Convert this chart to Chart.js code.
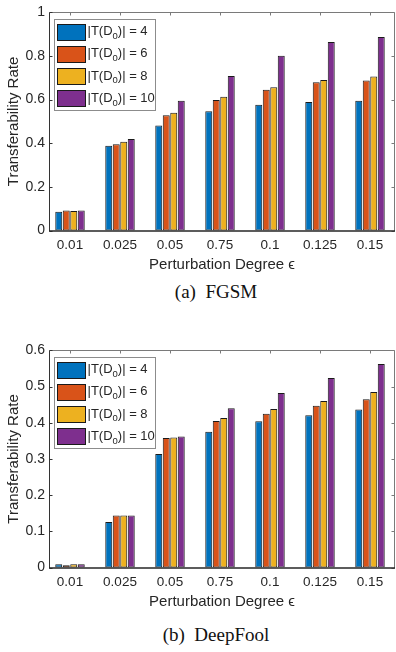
<!DOCTYPE html>
<html>
<head>
<meta charset="utf-8">
<script src="https://cdn.jsdelivr.net/npm/chart.js@4"></script>
<style>
  html, body { margin: 0; padding: 0; background: #fff; }
  body { width: 396px; height: 652px; position: relative; overflow: hidden; }
  .box { position: absolute; left: 0; width: 396px; }
  .cap { position: absolute; left: 0; width: 432px; text-align: center;
         font-family: "Liberation Serif", "Times New Roman", serif; font-size: 19px; color: #111; line-height: 22px; }
</style>
</head>
<body>
<div class="box" style="top:0;height:276px"><canvas id="fgsmChart"></canvas></div>
<div class="cap" style="top:281px">(a)&nbsp; FGSM</div>
<div class="box" style="top:338px;height:275px"><canvas id="deepfoolChart"></canvas></div>
<div class="cap" style="top:624px">(b)&nbsp; DeepFool</div>
<script>
// perturbation degrees (x axis)
const degrees = ['0.01', '0.025', '0.05', '0.75', '0.1', '0.125', '0.15'];
// |T(D0)| sizes, one per series
const sizes = ['4', '6', '8', '10'];
const colors = ['#0072BD', '#D95319', '#EDB120', '#7E2F8E'];

// (a) FGSM
const fgsm4  = [0.086, 0.389, 0.482, 0.547, 0.576, 0.589, 0.595];
const fgsm6  = [0.092, 0.395, 0.528, 0.598, 0.645, 0.680, 0.688];
const fgsm8  = [0.089, 0.407, 0.540, 0.613, 0.657, 0.690, 0.706];
const fgsm10 = [0.092, 0.420, 0.595, 0.708, 0.801, 0.864, 0.887];

// (b) DeepFool
const deep4  = [0.009, 0.126, 0.314, 0.375, 0.404, 0.421, 0.437];
const deep6  = [0.006, 0.1435, 0.358, 0.405, 0.425, 0.447, 0.465];
const deep8  = [0.009, 0.1435, 0.359, 0.413, 0.438, 0.460, 0.485];
const deep10 = [0.009, 0.144, 0.362, 0.440, 0.482, 0.524, 0.5625];

const sans = '"Liberation Sans", Arial, Helvetica, sans-serif';
const textColor = '#262626';

// legend box drawn inside the axes, with subscript 0
const boxLegend = {
  id: 'boxLegend',
  afterDraw(chart) {
    const ctx = chart.ctx;
    const a = chart.chartArea;
    const x0 = Math.round(a.left + 5) + 0.5, y0 = Math.round(a.top + 7) + 0.5;
    const w = 101, h = 91;
    ctx.save();
    ctx.fillStyle = '#fff';
    ctx.fillRect(x0, y0, w, h);
    ctx.strokeStyle = '#8c8c8c';
    ctx.lineWidth = 1;
    ctx.strokeRect(x0, y0, w, h);
    chart.data.datasets.forEach((ds, i) => {
      const cy = y0 + 12 + i * 22.3;
      ctx.fillStyle = ds.backgroundColor;
      ctx.fillRect(x0 + 3, Math.round(cy - 8) + 0.5, 28, 16);
      ctx.strokeStyle = '#1a1a1a';
      ctx.strokeRect(x0 + 3, Math.round(cy - 8) + 0.5, 28, 16);
      ctx.fillStyle = textColor;
      ctx.textBaseline = 'middle';
      ctx.textAlign = 'left';
      let tx = x0 + 33;
      ctx.font = '13px ' + sans;
      ctx.fillText('|T(D', tx, cy);
      tx += ctx.measureText('|T(D').width;
      ctx.font = '9.5px ' + sans;
      ctx.fillText('0', tx, cy + 4.5);
      tx += ctx.measureText('0').width;
      ctx.font = '13px ' + sans;
      ctx.fillText(')| = ' + sizes[i], tx, cy);
    });
    ctx.restore();
  }
};

// MATLAB-style box with inward ticks
const axisBox = {
  id: 'axisBox',
  afterDatasetsDraw(chart) {
    const ctx = chart.ctx;
    const a = chart.chartArea;
    const x = chart.scales.x, y = chart.scales.y;
    const L = Math.round(a.left) + 0.5, R = Math.round(a.right) - 0.5;
    const T = Math.round(a.top) + 0.5, B = Math.round(a.bottom);
    ctx.save();
    ctx.lineWidth = 1;
    ctx.strokeStyle = '#7a7a7a';
    ctx.beginPath();
    ctx.moveTo(L, T); ctx.lineTo(R, T); ctx.lineTo(R, B);
    y.ticks.forEach(t => {
      const py = Math.round(y.getPixelForValue(t.value)) + 0.5;
      ctx.moveTo(R, py); ctx.lineTo(R - 3, py);
    });
    x.ticks.forEach(t => {
      const px = Math.round(x.getPixelForValue(t.value)) + 0.5;
      ctx.moveTo(px, T); ctx.lineTo(px, T + 3);
    });
    ctx.stroke();
    ctx.strokeStyle = '#333';
    ctx.beginPath();
    ctx.moveTo(L, T); ctx.lineTo(L, B);
    y.ticks.forEach(t => {
      const py = Math.round(y.getPixelForValue(t.value)) + 0.5;
      ctx.moveTo(L, py); ctx.lineTo(L + 3, py);
    });
    ctx.stroke();
    ctx.lineWidth = 1.5;
    ctx.strokeStyle = '#262626';
    ctx.beginPath();
    ctx.moveTo(L - 0.5, B); ctx.lineTo(R + 0.5, B);
    ctx.stroke();
    ctx.restore();
  }
};

function makeChart(id, series, yMax, yStep) {
  return new Chart(document.getElementById(id), {
    type: 'bar',
    data: {
      datasets: series.map((vals, i) => ({
        label: '|T(D₀)| = ' + sizes[i],
        data: vals.map((v, k) => ({ x: k + 1, y: v })),
        backgroundColor: colors[i],
        borderColor: '#1a1a1a',
        borderWidth: 1,
        borderSkipped: false,
        categoryPercentage: 0.6,
        barPercentage: 0.93
      }))
    },
    options: {
      responsive: true,
      maintainAspectRatio: false,
      animation: false,
      layout: { padding: { top: 5.3, right: 1, left: 0, bottom: 0 } },
      plugins: { legend: { display: false }, tooltip: { enabled: false } },
      scales: {
        x: {
          type: 'linear',
          min: 0.58,
          max: 7.5,
          offset: false,
          grid: { display: false, drawTicks: false },
          border: { display: false },
          afterBuildTicks: s => { s.ticks = degrees.map((d, k) => ({ value: k + 1 })); },
          afterFit: s => { s.height = 45.5; },
          ticks: {
            callback: v => degrees[v - 1],
            color: textColor,
            font: { size: 13.5, family: sans },
            padding: 6.4,
            maxRotation: 0,
            autoSkip: false
          },
          title: {
            display: true,
            text: 'Perturbation Degree ϵ',
            color: textColor,
            font: { size: 15, family: sans },
            padding: { top: 0, bottom: 2 }
          }
        },
        y: {
          min: 0,
          max: yMax,
          grid: { display: false, drawTicks: false },
          border: { display: false },
          afterFit: s => { s.width = 49; },
          ticks: {
            stepSize: yStep,
            callback: v => String(Number(v.toFixed(2))),
            color: textColor,
            font: { size: 14, family: sans },
            padding: 4
          },
          title: {
            display: true,
            text: 'Transferability Rate',
            color: textColor,
            font: { size: 15, family: sans },
            padding: { top: 4.5, bottom: 0 }
          }
        }
      }
    },
    plugins: [axisBox, boxLegend]
  });
}

makeChart('fgsmChart', [fgsm4, fgsm6, fgsm8, fgsm10], 1, 0.2);
makeChart('deepfoolChart', [deep4, deep6, deep8, deep10], 0.6, 0.1);
</script>
</body>
</html>
